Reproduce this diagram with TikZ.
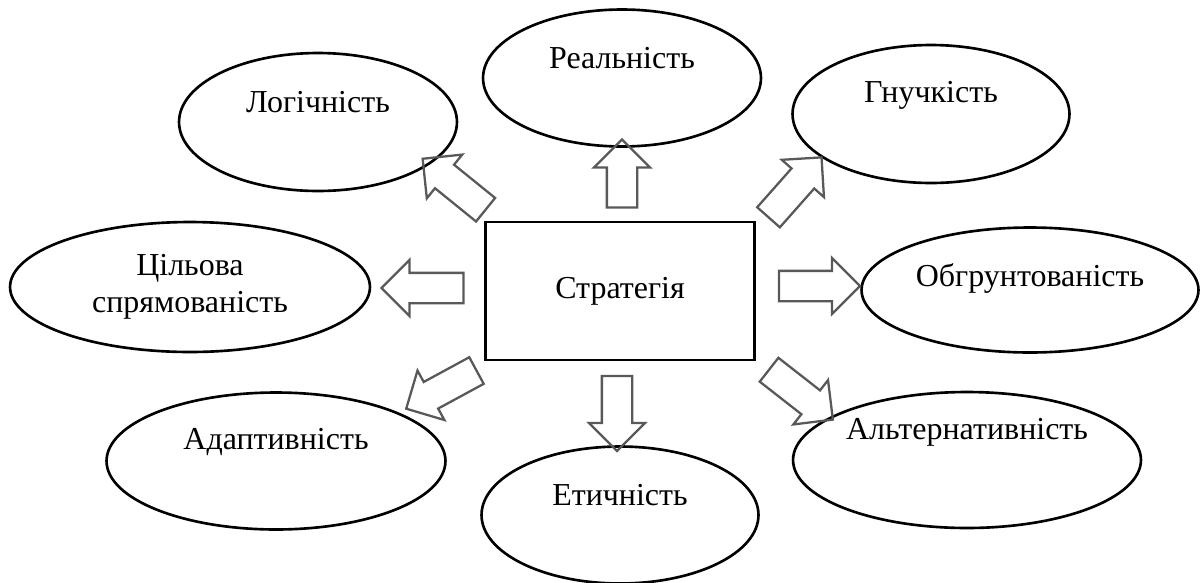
\documentclass[tikz,border=0pt]{standalone}
\usepackage{fontspec}
\setmainfont{Liberation Serif}
\usetikzlibrary{shapes.geometric,shapes.arrows}
\tikzset{
  oval/.style={draw,ellipse,line width=1.5pt,inner sep=0pt},
  box/.style={draw,rectangle,line width=1.5pt,inner sep=0pt},
  txt/.style={font=\fontsize{18.2}{21}\selectfont,align=center,inner sep=0pt},
  fat/.style={draw=black!65,single arrow,line width=1.3pt,inner sep=0.28cm,
    minimum width=1.08cm,single arrow head extend=0.26cm,minimum height=#1},
  fat/.default=1.6cm
}
\begin{document}
\begin{tikzpicture}[x=0.02cm,y=-0.02cm]
      \useasboundingbox (0,0) rectangle (1203,582);
      \draw
        (620,291) node[box,minimum width=5.38cm,minimum height=2.76cm] (str){}
        (622,78) node[oval,minimum width=5.56cm,minimum height=2.74cm] (rea){}
        (318,122) node[oval,minimum width=5.56cm,minimum height=2.76cm] (log){}
        (931,114) node[oval,minimum width=5.54cm,minimum height=2.76cm] (gnu){}
        (190,287) node[oval,minimum width=7.2cm,minimum height=2.6cm] (cil){}
        (1030,290) node[oval,minimum width=6.74cm,minimum height=2.5cm] (obg){}
        (276,461) node[oval,minimum width=6.78cm,minimum height=2.74cm] (ada){}
        (620,515) node[oval,minimum width=5.54cm,minimum height=2.74cm] (eti){}
        (967,460) node[oval,minimum width=6.96cm,minimum height=2.72cm] (alt){};
      \begin{scope}[txt]
        \node (strt) at (str.center) {Стратегія};
        \node (reat) at ([yshift=0.4cm]rea.center) {Реальність};
        \node (logt) at ([yshift=0.4cm]log.center) {Логічність};
        \node (gnut) at ([yshift=0.38cm]gnu.center) {Гнучкість};
        \node (cilt) at (cil.center) {Цільова\\спрямованість};
        \node (obgt) at ([yshift=0.24cm]obg.center) {Обгрунтованість};
        \node (adat) at ([yshift=0.38cm]ada.center) {Адаптивність};
        \node (etit) at ([yshift=0.4cm]eti.center) {Етичність};
        \node (altt) at ([yshift=0.56cm]alt.center) {Альтернативність};
      \end{scope}
      % arrows from the box
      \node[fat=1.36cm,rotate=90] (toRea) at (622,181) {};
      \node[fat=1.62cm,rotate=141] (toLog) at (460,189) {};
      \node[fat=1.6cm,rotate=48.5] (toGnu) at (790,193) {};
      \node[fat=1.64cm,rotate=180] (toCil) at (430,288) {};
      \node[fat=1.62cm] (toObg) at (812,286) {};
      \node[fat=1.6cm,rotate=208.5] (toAda) at (448,386) {};
      \node[fat=1.5cm,rotate=-90] (toEti) at (617,406) {};
      \node[fat=1.62cm,rotate=-38] (toAlt) at (795,390) {};
    \end{tikzpicture}
\end{document}
